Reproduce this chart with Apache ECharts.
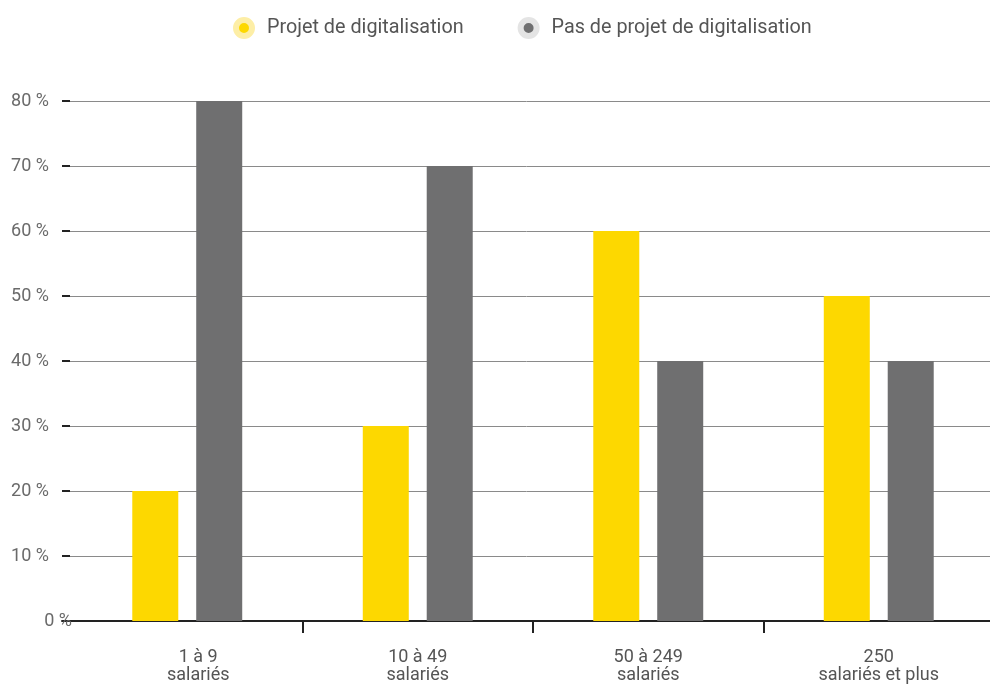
<!DOCTYPE html>
<html>
<head>
<meta charset="utf-8">
<script src="https://cdn.jsdelivr.net/npm/echarts@6/dist/echarts.min.js"></script>
<style>html,body{margin:0;padding:0;background:#fff}#c{width:990px;height:687px}</style>
</head>
<body>
<div id="c"></div>
<script>
var categories = ['1 à 9\nsalariés', '10 à 49\nsalariés', '50 à 249\nsalariés', '250\nsalariés et plus'];
var seriesNames = ['Projet de digitalisation', 'Pas de projet de digitalisation'];
var projet = [20, 30, 60, 50];
var pasProjet = [80, 70, 40, 40];
var yTicks = [0, 10, 20, 30, 40, 50, 60, 70, 80];

var FONT = 'Roboto, sans-serif';
var chart = echarts.init(document.getElementById('c'));
chart.setOption({
  animation: false,
  legend: {
    top: 12,
    left: 228,
    itemWidth: 16,
    itemHeight: 16,
    itemGap: 54,
    icon: 'circle',
    textStyle: { fontFamily: FONT, fontSize: 19.8, color: '#555555', padding: [0, 0, 0, 10] },
    data: [
      { name: seriesNames[0], itemStyle: { borderColor: '#fdeea6', borderWidth: 6 } },
      { name: seriesNames[1], itemStyle: { borderColor: '#e4e4e4', borderWidth: 6 } }
    ]
  },
  grid: [
    { left: 62, width: 932, top: 101, bottom: 66, outerBoundsMode: 'none' },
    { left: 72, width: 922, top: 101, bottom: 66, outerBoundsMode: 'none' }
  ],
  xAxis: [
    { gridIndex: 0, type: 'value', min: 0, max: 1,
      axisLine: { show: true, lineStyle: { color: '#222', width: 2 } },
      axisTick: { show: false }, axisLabel: { show: false }, splitLine: { show: false } },
    { gridIndex: 1, type: 'category', data: categories,
      axisLine: { show: false },
      axisTick: { show: true, length: 12, interval: function (i) { return i !== 0; },
        lineStyle: { color: '#222', width: 2 } },
      axisLabel: { margin: 27, fontFamily: FONT, fontSize: 18, color: '#555555', lineHeight: 18,
        formatter: function (v, i) {
          var parts = v.split('\n');
          var s = i === 0 ? 'f' : 'n';
          return parts.map(function (p) { return '{' + s + '|' + p + '}'; }).join('\n');
        },
        rich: {
          n: { fontFamily: FONT, fontSize: 18, color: '#555555', lineHeight: 18 },
          f: { fontFamily: FONT, fontSize: 18, color: '#555555', lineHeight: 18, padding: [0, 0, 0, 22] }
        }
      }
    }
  ],
  yAxis: [
    { gridIndex: 0, type: 'value', min: 0, max: 80, interval: 10,
      axisLine: { show: false },
      axisTick: { show: true, inside: true, length: 8, lineStyle: { color: '#222', width: 2 } },
      axisLabel: { show: false },
      splitLine: { show: true, lineStyle: { color: '#8a8a8a', width: 1 } } },
    { gridIndex: 1, type: 'value', min: 0, max: 80, interval: 10,
      axisLine: { show: false }, axisTick: { show: false }, splitLine: { show: false },
      axisLabel: { margin: 0, fontFamily: FONT, fontSize: 18, color: '#6a6a6a',
        formatter: function (v) {
          return v === 0 ? '{z|0 %}' : '{n|' + v + ' %}';
        },
        rich: {
          z: { fontFamily: FONT, fontSize: 18, color: '#6a6a6a' },
          n: { fontFamily: FONT, fontSize: 18, color: '#6a6a6a', padding: [0, 23, 0, 0] }
        }
      } }
  ],
  series: [
    { name: seriesNames[0], type: 'bar', xAxisIndex: 1, yAxisIndex: 1, data: projet,
      barWidth: 46, barGap: '39%', itemStyle: { color: '#fdd800' } },
    { name: seriesNames[1], type: 'bar', xAxisIndex: 1, yAxisIndex: 1, data: pasProjet,
      barWidth: 46, barGap: '39%', itemStyle: { color: '#6f6f70' } }
  ]
});
</script>
</body>
</html>
